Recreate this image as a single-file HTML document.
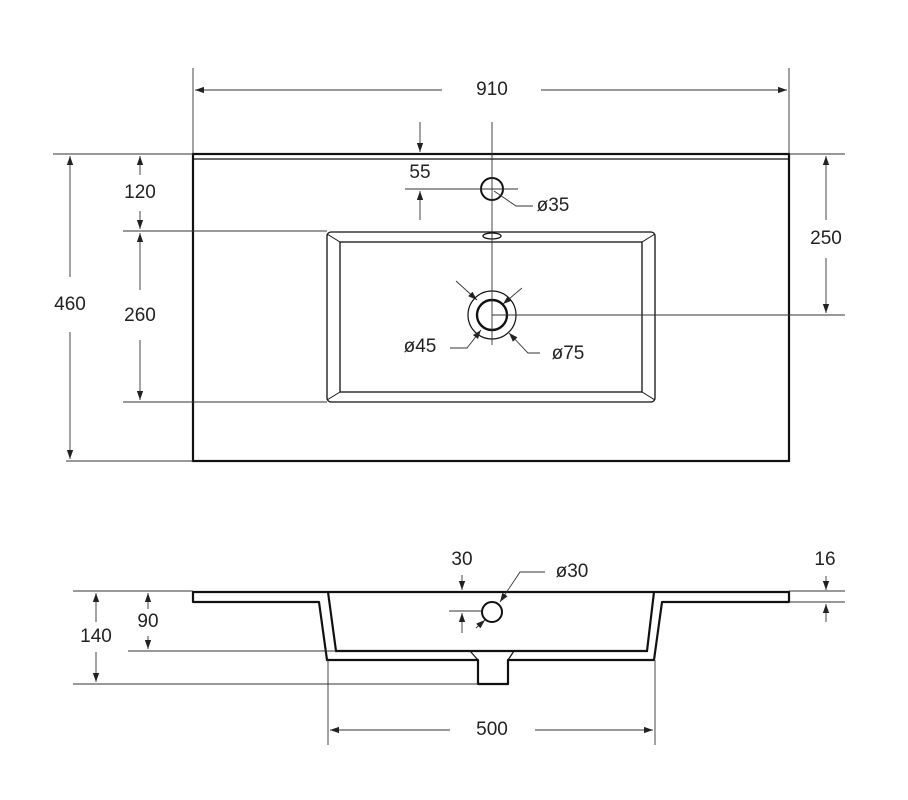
<!DOCTYPE html>
<html><head><style>
html,body{margin:0;padding:0;background:#fff;}
svg{display:block;}
text{font-family:"Liberation Sans",sans-serif;font-size:19px;fill:#222;text-anchor:middle;dominant-baseline:middle;}
</style></head><body>
<svg width="908" height="800" viewBox="0 0 908 800" xmlns="http://www.w3.org/2000/svg">
<defs>
<marker id="a" viewBox="0 0 10 10" refX="10" refY="5" markerWidth="9" markerHeight="9" orient="auto-start-reverse" markerUnits="userSpaceOnUse"><path d="M0,1.5 L10,5 L0,8.5 z" fill="#222"/></marker>
</defs>
<g fill="none" stroke="#111">
<rect x="193" y="154" width="596" height="307" stroke-width="2.2"/>
<line x1="193" y1="159" x2="789" y2="159" stroke-width="1.2"/>
<rect x="327" y="232" width="328" height="170" rx="4" stroke-width="1.3"/>
<rect x="340" y="242" width="302" height="150" stroke-width="1.3"/>
<line x1="327" y1="234" x2="340" y2="242" stroke-width="1"/>
<line x1="655" y1="234" x2="642" y2="242" stroke-width="1"/>
<line x1="327" y1="400" x2="340" y2="392" stroke-width="1"/>
<line x1="655" y1="400" x2="642" y2="392" stroke-width="1"/>
<ellipse cx="492" cy="236" rx="9" ry="3" stroke-width="1.3"/>
<circle cx="492" cy="189" r="11" stroke-width="2"/>
<circle cx="492" cy="315" r="24" stroke-width="1.2"/>
<circle cx="492" cy="315" r="15" stroke-width="2.4"/>
<g stroke-width="0.9" stroke="#333">
<line x1="492" y1="122" x2="492" y2="345"/>
<line x1="405" y1="189" x2="518" y2="189"/>
<line x1="492" y1="315" x2="845" y2="315"/>
<line x1="193" y1="68" x2="193" y2="154"/>
<line x1="789" y1="68" x2="789" y2="154"/>
<line x1="53" y1="154" x2="193" y2="154"/>
<line x1="66" y1="461" x2="193" y2="461"/>
<line x1="123" y1="231" x2="327" y2="231"/>
<line x1="123" y1="402" x2="327" y2="402"/>
<line x1="789" y1="154" x2="845" y2="154"/>
<line x1="195" y1="90" x2="442" y2="90" marker-start="url(#a)"/>
<line x1="541" y1="90" x2="787" y2="90" marker-end="url(#a)"/>
<line x1="70" y1="156" x2="70" y2="277" marker-start="url(#a)"/>
<line x1="70" y1="332" x2="70" y2="459" marker-end="url(#a)"/>
<line x1="140" y1="156" x2="140" y2="175" marker-start="url(#a)"/>
<line x1="140" y1="211" x2="140" y2="229" marker-end="url(#a)"/>
<line x1="140" y1="233" x2="140" y2="290" marker-start="url(#a)"/>
<line x1="140" y1="340" x2="140" y2="400" marker-end="url(#a)"/>
<line x1="420" y1="122" x2="420" y2="152" marker-end="url(#a)"/>
<line x1="420" y1="220" x2="420" y2="191" marker-end="url(#a)"/>
<line x1="826" y1="156" x2="826" y2="220" marker-start="url(#a)"/>
<line x1="826" y1="258" x2="826" y2="313" marker-end="url(#a)"/>
<polyline points="533,206 516,206 494,191"/>
<line x1="456" y1="281" x2="477" y2="300" marker-end="url(#a)"/>
<line x1="522" y1="288" x2="503" y2="304" marker-end="url(#a)"/>
<polyline points="450,348 467,348 481,330" marker-end="url(#a)"/>
<polyline points="540,353 528,353 509,333" marker-end="url(#a)"/>
</g>
<path d="M193,592 L789,592 L789,602 L662,602 L654,660 L508,660 L508,684 L478,684 L478,660 L327,660 L319,602 L193,602 Z" stroke-width="2.2" stroke-linejoin="round"/>
<path d="M328,592 L336,651 L647,651 L654,592" stroke-width="2.2"/>
<line x1="470" y1="651" x2="478" y2="660" stroke-width="1.2"/>
<line x1="514" y1="651" x2="508" y2="660" stroke-width="1.2"/>
<circle cx="492" cy="612" r="10" stroke-width="2"/>
<g stroke-width="0.9" stroke="#333">
<line x1="73" y1="591" x2="193" y2="591"/>
<line x1="73" y1="684" x2="478" y2="684"/>
<line x1="128" y1="651" x2="336" y2="651"/>
<line x1="328" y1="660" x2="328" y2="745"/>
<line x1="655" y1="660" x2="655" y2="745"/>
<line x1="789" y1="591" x2="845" y2="591"/>
<line x1="789" y1="602" x2="845" y2="602"/>
<line x1="449" y1="611" x2="482" y2="611"/>
<line x1="96" y1="593" x2="96" y2="622" marker-start="url(#a)"/>
<line x1="96" y1="652" x2="96" y2="682" marker-end="url(#a)"/>
<line x1="148" y1="593" x2="148" y2="609" marker-start="url(#a)"/>
<line x1="148" y1="636" x2="148" y2="649" marker-end="url(#a)"/>
<line x1="330" y1="730" x2="450" y2="730" marker-start="url(#a)"/>
<line x1="535" y1="730" x2="653" y2="730" marker-end="url(#a)"/>
<line x1="826" y1="576" x2="826" y2="590" marker-end="url(#a)"/>
<line x1="826" y1="622" x2="826" y2="604" marker-end="url(#a)"/>
<line x1="462" y1="575" x2="462" y2="590" marker-end="url(#a)"/>
<line x1="462" y1="633" x2="462" y2="613" marker-end="url(#a)"/>
<polyline points="545,572 520,572 500,602" marker-end="url(#a)"/>
<line x1="476" y1="628" x2="485" y2="620" marker-end="url(#a)"/>
</g>
</g>
<text x="492" y="90">910</text>
<text x="70" y="305">460</text>
<text x="140" y="193">120</text>
<text x="140" y="316">260</text>
<text x="420" y="173">55</text>
<text x="553" y="206">ø35</text>
<text x="826" y="239">250</text>
<text x="420" y="347">ø45</text>
<text x="568" y="354">ø75</text>
<text x="462" y="560">30</text>
<text x="572" y="572">ø30</text>
<text x="825" y="560">16</text>
<text x="96" y="637">140</text>
<text x="148" y="622">90</text>
<text x="492" y="730">500</text>
</svg>
</body></html>
